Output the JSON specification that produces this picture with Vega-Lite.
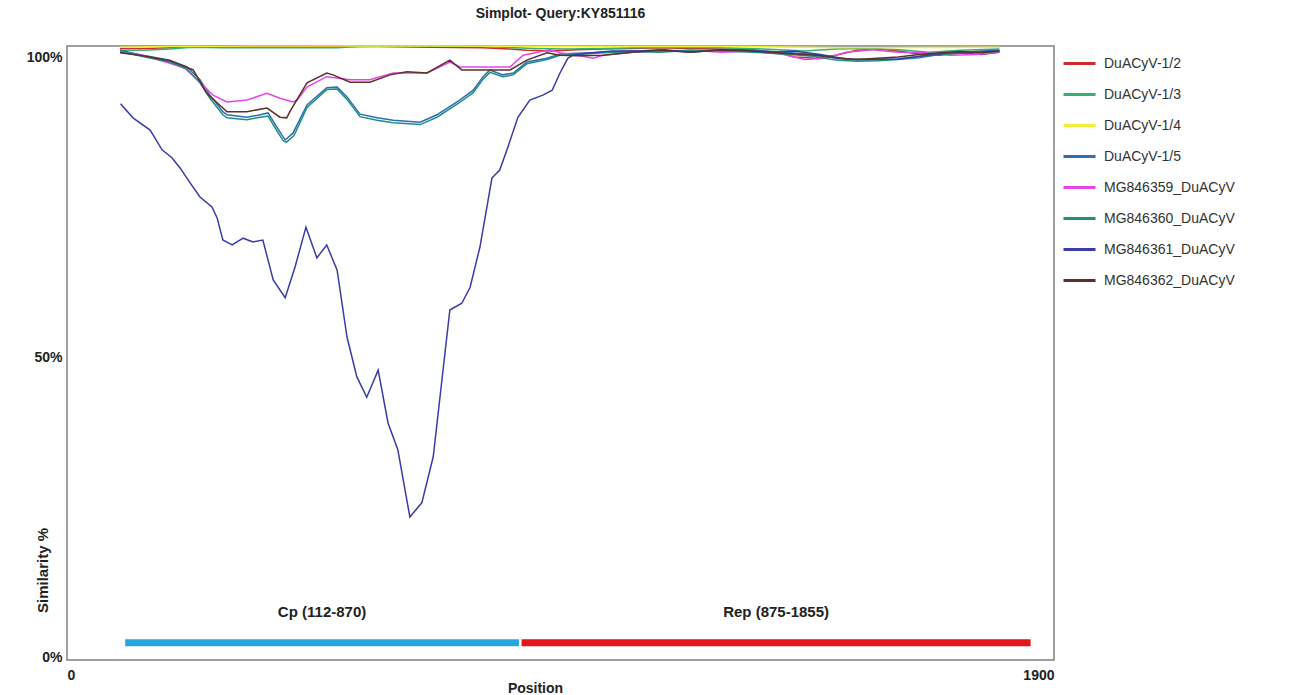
{
  "$schema": "https://vega.github.io/schema/vega-lite/v6.json",
  "width": 987,
  "height": 614,
  "autosize": "none",
  "padding": {"left": 67, "top": 46, "right": 244, "bottom": 35},
  "background": "white",
  "config": {
    "view": {"stroke": "#808080", "strokeWidth": 1.5},
    "font": "Liberation Sans"
  },
  "title": {"text": "Simplot- Query:KY851116", "fontSize": 14, "fontWeight": "bold", "font": "Liberation Sans", "color": "#222222", "offset": 22},
  "datasets": {
    "sim": [
      {"series": "DuACyV-1/2", "pos": 102, "sim": 99.6}, {"series": "DuACyV-1/2", "pos": 146, "sim": 99.6}, {"series": "DuACyV-1/2", "pos": 198, "sim": 99.7}, {"series": "DuACyV-1/2", "pos": 256, "sim": 99.9}, {"series": "DuACyV-1/2", "pos": 300, "sim": 100}, {"series": "DuACyV-1/2", "pos": 400, "sim": 100}, {"series": "DuACyV-1/2", "pos": 500, "sim": 99.9}, {"series": "DuACyV-1/2", "pos": 600, "sim": 99.9}, {"series": "DuACyV-1/2", "pos": 700, "sim": 99.8}, {"series": "DuACyV-1/2", "pos": 800, "sim": 99.7}, {"series": "DuACyV-1/2", "pos": 853, "sim": 99.5}, {"series": "DuACyV-1/2", "pos": 885, "sim": 99.3}, {"series": "DuACyV-1/2", "pos": 930, "sim": 99.2}, {"series": "DuACyV-1/2", "pos": 982, "sim": 99.4}, {"series": "DuACyV-1/2", "pos": 1032, "sim": 99.5}, {"series": "DuACyV-1/2", "pos": 1089, "sim": 99.6}, {"series": "DuACyV-1/2", "pos": 1141, "sim": 99.7}, {"series": "DuACyV-1/2", "pos": 1200, "sim": 99.6}, {"series": "DuACyV-1/2", "pos": 1260, "sim": 99.5}, {"series": "DuACyV-1/2", "pos": 1320, "sim": 99.4}, {"series": "DuACyV-1/2", "pos": 1370, "sim": 98.9}, {"series": "DuACyV-1/2", "pos": 1400, "sim": 98.2}, {"series": "DuACyV-1/2", "pos": 1440, "sim": 98.0}, {"series": "DuACyV-1/2", "pos": 1480, "sim": 98.5}, {"series": "DuACyV-1/2", "pos": 1520, "sim": 99.3}, {"series": "DuACyV-1/2", "pos": 1560, "sim": 99.5}, {"series": "DuACyV-1/2", "pos": 1600, "sim": 99.2}, {"series": "DuACyV-1/2", "pos": 1640, "sim": 98.7}, {"series": "DuACyV-1/2", "pos": 1680, "sim": 98.5}, {"series": "DuACyV-1/2", "pos": 1720, "sim": 98.9}, {"series": "DuACyV-1/2", "pos": 1760, "sim": 98.6}, {"series": "DuACyV-1/2", "pos": 1795, "sim": 99.0},

      {"series": "DuACyV-1/3", "pos": 102, "sim": 99.3}, {"series": "DuACyV-1/3", "pos": 146, "sim": 99.3}, {"series": "DuACyV-1/3", "pos": 198, "sim": 99.5}, {"series": "DuACyV-1/3", "pos": 240, "sim": 99.8}, {"series": "DuACyV-1/3", "pos": 300, "sim": 99.7}, {"series": "DuACyV-1/3", "pos": 400, "sim": 99.7}, {"series": "DuACyV-1/3", "pos": 520, "sim": 99.7}, {"series": "DuACyV-1/3", "pos": 560, "sim": 99.9}, {"series": "DuACyV-1/3", "pos": 620, "sim": 100}, {"series": "DuACyV-1/3", "pos": 700, "sim": 100}, {"series": "DuACyV-1/3", "pos": 800, "sim": 99.9}, {"series": "DuACyV-1/3", "pos": 900, "sim": 99.6}, {"series": "DuACyV-1/3", "pos": 960, "sim": 99.5}, {"series": "DuACyV-1/3", "pos": 1032, "sim": 99.6}, {"series": "DuACyV-1/3", "pos": 1100, "sim": 99.7}, {"series": "DuACyV-1/3", "pos": 1180, "sim": 99.8}, {"series": "DuACyV-1/3", "pos": 1260, "sim": 99.7}, {"series": "DuACyV-1/3", "pos": 1340, "sim": 99.5}, {"series": "DuACyV-1/3", "pos": 1420, "sim": 99.2}, {"series": "DuACyV-1/3", "pos": 1480, "sim": 99.5}, {"series": "DuACyV-1/3", "pos": 1540, "sim": 99.6}, {"series": "DuACyV-1/3", "pos": 1600, "sim": 99.4}, {"series": "DuACyV-1/3", "pos": 1660, "sim": 99.0}, {"series": "DuACyV-1/3", "pos": 1720, "sim": 99.3}, {"series": "DuACyV-1/3", "pos": 1795, "sim": 99.5},

      {"series": "DuACyV-1/4", "pos": 102, "sim": 99.8}, {"series": "DuACyV-1/4", "pos": 200, "sim": 99.9}, {"series": "DuACyV-1/4", "pos": 400, "sim": 100}, {"series": "DuACyV-1/4", "pos": 700, "sim": 100}, {"series": "DuACyV-1/4", "pos": 1000, "sim": 99.9}, {"series": "DuACyV-1/4", "pos": 1300, "sim": 99.9}, {"series": "DuACyV-1/4", "pos": 1500, "sim": 99.7}, {"series": "DuACyV-1/4", "pos": 1795, "sim": 99.8},

      {"series": "DuACyV-1/5", "pos": 102, "sim": 99.3}, {"series": "DuACyV-1/5", "pos": 146, "sim": 98.5}, {"series": "DuACyV-1/5", "pos": 198, "sim": 97.7}, {"series": "DuACyV-1/5", "pos": 231, "sim": 96.6}, {"series": "DuACyV-1/5", "pos": 256, "sim": 94.5}, {"series": "DuACyV-1/5", "pos": 275, "sim": 92.0}, {"series": "DuACyV-1/5", "pos": 300, "sim": 89.3}, {"series": "DuACyV-1/5", "pos": 308, "sim": 88.8}, {"series": "DuACyV-1/5", "pos": 346, "sim": 88.4}, {"series": "DuACyV-1/5", "pos": 372, "sim": 88.8}, {"series": "DuACyV-1/5", "pos": 387, "sim": 89.1}, {"series": "DuACyV-1/5", "pos": 404, "sim": 86.8}, {"series": "DuACyV-1/5", "pos": 416, "sim": 85.2}, {"series": "DuACyV-1/5", "pos": 420, "sim": 84.7}, {"series": "DuACyV-1/5", "pos": 435, "sim": 85.8}, {"series": "DuACyV-1/5", "pos": 462, "sim": 90.4}, {"series": "DuACyV-1/5", "pos": 500, "sim": 93.2}, {"series": "DuACyV-1/5", "pos": 520, "sim": 93.3}, {"series": "DuACyV-1/5", "pos": 539, "sim": 91.7}, {"series": "DuACyV-1/5", "pos": 564, "sim": 88.9}, {"series": "DuACyV-1/5", "pos": 597, "sim": 88.3}, {"series": "DuACyV-1/5", "pos": 628, "sim": 87.9}, {"series": "DuACyV-1/5", "pos": 680, "sim": 87.6}, {"series": "DuACyV-1/5", "pos": 712, "sim": 88.8}, {"series": "DuACyV-1/5", "pos": 756, "sim": 91.2}, {"series": "DuACyV-1/5", "pos": 782, "sim": 92.8}, {"series": "DuACyV-1/5", "pos": 801, "sim": 95.0}, {"series": "DuACyV-1/5", "pos": 814, "sim": 96.1}, {"series": "DuACyV-1/5", "pos": 839, "sim": 95.3}, {"series": "DuACyV-1/5", "pos": 859, "sim": 95.6}, {"series": "DuACyV-1/5", "pos": 885, "sim": 97.4}, {"series": "DuACyV-1/5", "pos": 924, "sim": 98.0}, {"series": "DuACyV-1/5", "pos": 949, "sim": 98.7}, {"series": "DuACyV-1/5", "pos": 982, "sim": 98.8}, {"series": "DuACyV-1/5", "pos": 1032, "sim": 99.0}, {"series": "DuACyV-1/5", "pos": 1089, "sim": 99.2}, {"series": "DuACyV-1/5", "pos": 1141, "sim": 99.3}, {"series": "DuACyV-1/5", "pos": 1200, "sim": 99.1}, {"series": "DuACyV-1/5", "pos": 1260, "sim": 99.4}, {"series": "DuACyV-1/5", "pos": 1320, "sim": 99.3}, {"series": "DuACyV-1/5", "pos": 1380, "sim": 99.0}, {"series": "DuACyV-1/5", "pos": 1440, "sim": 98.6}, {"series": "DuACyV-1/5", "pos": 1480, "sim": 98.0}, {"series": "DuACyV-1/5", "pos": 1520, "sim": 97.7}, {"series": "DuACyV-1/5", "pos": 1560, "sim": 97.8}, {"series": "DuACyV-1/5", "pos": 1600, "sim": 97.9}, {"series": "DuACyV-1/5", "pos": 1640, "sim": 98.3}, {"series": "DuACyV-1/5", "pos": 1680, "sim": 98.8}, {"series": "DuACyV-1/5", "pos": 1720, "sim": 98.9}, {"series": "DuACyV-1/5", "pos": 1760, "sim": 99.2}, {"series": "DuACyV-1/5", "pos": 1795, "sim": 99.3},

      {"series": "MG846359_DuACyV", "pos": 102, "sim": 99.0}, {"series": "MG846359_DuACyV", "pos": 146, "sim": 98.5}, {"series": "MG846359_DuACyV", "pos": 198, "sim": 97.2}, {"series": "MG846359_DuACyV", "pos": 227, "sim": 96.4}, {"series": "MG846359_DuACyV", "pos": 256, "sim": 94.1}, {"series": "MG846359_DuACyV", "pos": 281, "sim": 92.0}, {"series": "MG846359_DuACyV", "pos": 308, "sim": 90.9}, {"series": "MG846359_DuACyV", "pos": 346, "sim": 91.2}, {"series": "MG846359_DuACyV", "pos": 385, "sim": 92.3}, {"series": "MG846359_DuACyV", "pos": 410, "sim": 91.5}, {"series": "MG846359_DuACyV", "pos": 435, "sim": 90.9}, {"series": "MG846359_DuACyV", "pos": 443, "sim": 91.2}, {"series": "MG846359_DuACyV", "pos": 462, "sim": 93.3}, {"series": "MG846359_DuACyV", "pos": 500, "sim": 95.0}, {"series": "MG846359_DuACyV", "pos": 545, "sim": 94.5}, {"series": "MG846359_DuACyV", "pos": 583, "sim": 94.5}, {"series": "MG846359_DuACyV", "pos": 628, "sim": 95.6}, {"series": "MG846359_DuACyV", "pos": 693, "sim": 95.6}, {"series": "MG846359_DuACyV", "pos": 737, "sim": 97.4}, {"series": "MG846359_DuACyV", "pos": 756, "sim": 96.6}, {"series": "MG846359_DuACyV", "pos": 820, "sim": 96.6}, {"series": "MG846359_DuACyV", "pos": 853, "sim": 96.6}, {"series": "MG846359_DuACyV", "pos": 878, "sim": 98.5}, {"series": "MG846359_DuACyV", "pos": 930, "sim": 99.4}, {"series": "MG846359_DuACyV", "pos": 949, "sim": 98.9}, {"series": "MG846359_DuACyV", "pos": 982, "sim": 98.5}, {"series": "MG846359_DuACyV", "pos": 1013, "sim": 98.0}, {"series": "MG846359_DuACyV", "pos": 1032, "sim": 98.5}, {"series": "MG846359_DuACyV", "pos": 1089, "sim": 99.0}, {"series": "MG846359_DuACyV", "pos": 1141, "sim": 99.2}, {"series": "MG846359_DuACyV", "pos": 1200, "sim": 99.3}, {"series": "MG846359_DuACyV", "pos": 1260, "sim": 99.0}, {"series": "MG846359_DuACyV", "pos": 1320, "sim": 99.2}, {"series": "MG846359_DuACyV", "pos": 1380, "sim": 98.6}, {"series": "MG846359_DuACyV", "pos": 1420, "sim": 97.8}, {"series": "MG846359_DuACyV", "pos": 1460, "sim": 98.0}, {"series": "MG846359_DuACyV", "pos": 1500, "sim": 99.0}, {"series": "MG846359_DuACyV", "pos": 1550, "sim": 99.4}, {"series": "MG846359_DuACyV", "pos": 1600, "sim": 99.0}, {"series": "MG846359_DuACyV", "pos": 1650, "sim": 98.9}, {"series": "MG846359_DuACyV", "pos": 1700, "sim": 98.5}, {"series": "MG846359_DuACyV", "pos": 1750, "sim": 98.6}, {"series": "MG846359_DuACyV", "pos": 1795, "sim": 99.0},

      {"series": "MG846360_DuACyV", "pos": 102, "sim": 99.1}, {"series": "MG846360_DuACyV", "pos": 146, "sim": 98.3}, {"series": "MG846360_DuACyV", "pos": 198, "sim": 97.4}, {"series": "MG846360_DuACyV", "pos": 231, "sim": 96.2}, {"series": "MG846360_DuACyV", "pos": 256, "sim": 94.0}, {"series": "MG846360_DuACyV", "pos": 275, "sim": 91.5}, {"series": "MG846360_DuACyV", "pos": 300, "sim": 88.8}, {"series": "MG846360_DuACyV", "pos": 308, "sim": 88.3}, {"series": "MG846360_DuACyV", "pos": 346, "sim": 88.0}, {"series": "MG846360_DuACyV", "pos": 372, "sim": 88.4}, {"series": "MG846360_DuACyV", "pos": 387, "sim": 88.6}, {"series": "MG846360_DuACyV", "pos": 404, "sim": 86.2}, {"series": "MG846360_DuACyV", "pos": 416, "sim": 84.6}, {"series": "MG846360_DuACyV", "pos": 422, "sim": 84.3}, {"series": "MG846360_DuACyV", "pos": 437, "sim": 85.4}, {"series": "MG846360_DuACyV", "pos": 462, "sim": 90.0}, {"series": "MG846360_DuACyV", "pos": 500, "sim": 92.9}, {"series": "MG846360_DuACyV", "pos": 520, "sim": 93.0}, {"series": "MG846360_DuACyV", "pos": 539, "sim": 91.3}, {"series": "MG846360_DuACyV", "pos": 564, "sim": 88.5}, {"series": "MG846360_DuACyV", "pos": 597, "sim": 87.9}, {"series": "MG846360_DuACyV", "pos": 628, "sim": 87.5}, {"series": "MG846360_DuACyV", "pos": 680, "sim": 87.2}, {"series": "MG846360_DuACyV", "pos": 712, "sim": 88.4}, {"series": "MG846360_DuACyV", "pos": 756, "sim": 90.8}, {"series": "MG846360_DuACyV", "pos": 782, "sim": 92.4}, {"series": "MG846360_DuACyV", "pos": 801, "sim": 94.6}, {"series": "MG846360_DuACyV", "pos": 814, "sim": 95.7}, {"series": "MG846360_DuACyV", "pos": 839, "sim": 95.0}, {"series": "MG846360_DuACyV", "pos": 859, "sim": 95.3}, {"series": "MG846360_DuACyV", "pos": 885, "sim": 97.1}, {"series": "MG846360_DuACyV", "pos": 924, "sim": 97.8}, {"series": "MG846360_DuACyV", "pos": 949, "sim": 98.5}, {"series": "MG846360_DuACyV", "pos": 982, "sim": 98.6}, {"series": "MG846360_DuACyV", "pos": 1032, "sim": 98.9}, {"series": "MG846360_DuACyV", "pos": 1089, "sim": 99.1}, {"series": "MG846360_DuACyV", "pos": 1141, "sim": 99.0}, {"series": "MG846360_DuACyV", "pos": 1200, "sim": 99.3}, {"series": "MG846360_DuACyV", "pos": 1260, "sim": 99.2}, {"series": "MG846360_DuACyV", "pos": 1320, "sim": 99.0}, {"series": "MG846360_DuACyV", "pos": 1380, "sim": 98.7}, {"series": "MG846360_DuACyV", "pos": 1440, "sim": 98.3}, {"series": "MG846360_DuACyV", "pos": 1480, "sim": 97.7}, {"series": "MG846360_DuACyV", "pos": 1520, "sim": 97.5}, {"series": "MG846360_DuACyV", "pos": 1560, "sim": 97.6}, {"series": "MG846360_DuACyV", "pos": 1600, "sim": 97.8}, {"series": "MG846360_DuACyV", "pos": 1640, "sim": 98.1}, {"series": "MG846360_DuACyV", "pos": 1680, "sim": 98.6}, {"series": "MG846360_DuACyV", "pos": 1720, "sim": 98.8}, {"series": "MG846360_DuACyV", "pos": 1760, "sim": 99.0}, {"series": "MG846360_DuACyV", "pos": 1795, "sim": 99.1},

      {"series": "MG846361_DuACyV", "pos": 103, "sim": 90.6}, {"series": "MG846361_DuACyV", "pos": 127, "sim": 88.3}, {"series": "MG846361_DuACyV", "pos": 160, "sim": 86.3}, {"series": "MG846361_DuACyV", "pos": 183, "sim": 83.1}, {"series": "MG846361_DuACyV", "pos": 202, "sim": 81.8}, {"series": "MG846361_DuACyV", "pos": 218, "sim": 80.1}, {"series": "MG846361_DuACyV", "pos": 237, "sim": 77.7}, {"series": "MG846361_DuACyV", "pos": 256, "sim": 75.4}, {"series": "MG846361_DuACyV", "pos": 279, "sim": 73.8}, {"series": "MG846361_DuACyV", "pos": 289, "sim": 72.0}, {"series": "MG846361_DuACyV", "pos": 300, "sim": 68.4}, {"series": "MG846361_DuACyV", "pos": 318, "sim": 67.6}, {"series": "MG846361_DuACyV", "pos": 339, "sim": 68.7}, {"series": "MG846361_DuACyV", "pos": 358, "sim": 68.1}, {"series": "MG846361_DuACyV", "pos": 377, "sim": 68.4}, {"series": "MG846361_DuACyV", "pos": 397, "sim": 61.9}, {"series": "MG846361_DuACyV", "pos": 420, "sim": 59.0}, {"series": "MG846361_DuACyV", "pos": 439, "sim": 64.0}, {"series": "MG846361_DuACyV", "pos": 460, "sim": 70.5}, {"series": "MG846361_DuACyV", "pos": 481, "sim": 65.5}, {"series": "MG846361_DuACyV", "pos": 500, "sim": 67.6}, {"series": "MG846361_DuACyV", "pos": 520, "sim": 63.5}, {"series": "MG846361_DuACyV", "pos": 539, "sim": 52.6}, {"series": "MG846361_DuACyV", "pos": 558, "sim": 46.1}, {"series": "MG846361_DuACyV", "pos": 577, "sim": 42.8}, {"series": "MG846361_DuACyV", "pos": 599, "sim": 47.2}, {"series": "MG846361_DuACyV", "pos": 618, "sim": 38.6}, {"series": "MG846361_DuACyV", "pos": 637, "sim": 34.2}, {"series": "MG846361_DuACyV", "pos": 660, "sim": 23.3}, {"series": "MG846361_DuACyV", "pos": 683, "sim": 25.6}, {"series": "MG846361_DuACyV", "pos": 705, "sim": 33.1}, {"series": "MG846361_DuACyV", "pos": 737, "sim": 57.0}, {"series": "MG846361_DuACyV", "pos": 760, "sim": 58.1}, {"series": "MG846361_DuACyV", "pos": 776, "sim": 60.7}, {"series": "MG846361_DuACyV", "pos": 795, "sim": 67.3}, {"series": "MG846361_DuACyV", "pos": 818, "sim": 78.5}, {"series": "MG846361_DuACyV", "pos": 833, "sim": 79.8}, {"series": "MG846361_DuACyV", "pos": 847, "sim": 83.1}, {"series": "MG846361_DuACyV", "pos": 868, "sim": 88.4}, {"series": "MG846361_DuACyV", "pos": 891, "sim": 91.2}, {"series": "MG846361_DuACyV", "pos": 916, "sim": 92.0}, {"series": "MG846361_DuACyV", "pos": 934, "sim": 92.8}, {"series": "MG846361_DuACyV", "pos": 949, "sim": 95.6}, {"series": "MG846361_DuACyV", "pos": 964, "sim": 98.0}, {"series": "MG846361_DuACyV", "pos": 974, "sim": 98.5}, {"series": "MG846361_DuACyV", "pos": 1000, "sim": 98.8}, {"series": "MG846361_DuACyV", "pos": 1050, "sim": 99.2}, {"series": "MG846361_DuACyV", "pos": 1100, "sim": 99.2}, {"series": "MG846361_DuACyV", "pos": 1150, "sim": 99.4}, {"series": "MG846361_DuACyV", "pos": 1200, "sim": 99.0}, {"series": "MG846361_DuACyV", "pos": 1250, "sim": 99.3}, {"series": "MG846361_DuACyV", "pos": 1300, "sim": 99.3}, {"series": "MG846361_DuACyV", "pos": 1350, "sim": 99.0}, {"series": "MG846361_DuACyV", "pos": 1400, "sim": 99.2}, {"series": "MG846361_DuACyV", "pos": 1450, "sim": 98.6}, {"series": "MG846361_DuACyV", "pos": 1500, "sim": 97.9}, {"series": "MG846361_DuACyV", "pos": 1550, "sim": 97.8}, {"series": "MG846361_DuACyV", "pos": 1600, "sim": 97.9}, {"series": "MG846361_DuACyV", "pos": 1650, "sim": 98.4}, {"series": "MG846361_DuACyV", "pos": 1700, "sim": 98.9}, {"series": "MG846361_DuACyV", "pos": 1750, "sim": 99.0}, {"series": "MG846361_DuACyV", "pos": 1795, "sim": 99.2},

      {"series": "MG846362_DuACyV", "pos": 102, "sim": 98.9}, {"series": "MG846362_DuACyV", "pos": 146, "sim": 98.4}, {"series": "MG846362_DuACyV", "pos": 198, "sim": 97.6}, {"series": "MG846362_DuACyV", "pos": 243, "sim": 96.1}, {"series": "MG846362_DuACyV", "pos": 269, "sim": 92.3}, {"series": "MG846362_DuACyV", "pos": 308, "sim": 89.3}, {"series": "MG846362_DuACyV", "pos": 346, "sim": 89.3}, {"series": "MG846362_DuACyV", "pos": 385, "sim": 89.9}, {"series": "MG846362_DuACyV", "pos": 410, "sim": 88.4}, {"series": "MG846362_DuACyV", "pos": 423, "sim": 88.3}, {"series": "MG846362_DuACyV", "pos": 429, "sim": 89.3}, {"series": "MG846362_DuACyV", "pos": 462, "sim": 94.0}, {"series": "MG846362_DuACyV", "pos": 500, "sim": 95.6}, {"series": "MG846362_DuACyV", "pos": 512, "sim": 95.3}, {"series": "MG846362_DuACyV", "pos": 545, "sim": 94.1}, {"series": "MG846362_DuACyV", "pos": 583, "sim": 94.1}, {"series": "MG846362_DuACyV", "pos": 622, "sim": 95.3}, {"series": "MG846362_DuACyV", "pos": 654, "sim": 95.8}, {"series": "MG846362_DuACyV", "pos": 693, "sim": 95.6}, {"series": "MG846362_DuACyV", "pos": 737, "sim": 97.7}, {"series": "MG846362_DuACyV", "pos": 760, "sim": 96.1}, {"series": "MG846362_DuACyV", "pos": 795, "sim": 96.1}, {"series": "MG846362_DuACyV", "pos": 853, "sim": 96.1}, {"series": "MG846362_DuACyV", "pos": 885, "sim": 97.7}, {"series": "MG846362_DuACyV", "pos": 924, "sim": 98.9}, {"series": "MG846362_DuACyV", "pos": 949, "sim": 98.5}, {"series": "MG846362_DuACyV", "pos": 982, "sim": 98.4}, {"series": "MG846362_DuACyV", "pos": 1032, "sim": 98.5}, {"series": "MG846362_DuACyV", "pos": 1089, "sim": 99.0}, {"series": "MG846362_DuACyV", "pos": 1141, "sim": 99.3}, {"series": "MG846362_DuACyV", "pos": 1200, "sim": 99.0}, {"series": "MG846362_DuACyV", "pos": 1260, "sim": 99.4}, {"series": "MG846362_DuACyV", "pos": 1320, "sim": 99.2}, {"series": "MG846362_DuACyV", "pos": 1380, "sim": 98.8}, {"series": "MG846362_DuACyV", "pos": 1440, "sim": 98.5}, {"series": "MG846362_DuACyV", "pos": 1480, "sim": 98.1}, {"series": "MG846362_DuACyV", "pos": 1520, "sim": 97.8}, {"series": "MG846362_DuACyV", "pos": 1560, "sim": 98.0}, {"series": "MG846362_DuACyV", "pos": 1600, "sim": 98.2}, {"series": "MG846362_DuACyV", "pos": 1640, "sim": 98.6}, {"series": "MG846362_DuACyV", "pos": 1680, "sim": 98.9}, {"series": "MG846362_DuACyV", "pos": 1720, "sim": 99.1}, {"series": "MG846362_DuACyV", "pos": 1760, "sim": 98.9}, {"series": "MG846362_DuACyV", "pos": 1795, "sim": 99.2}
    ],
    "genes": [
      {"gene": "Cp (112-870)", "start": 112, "end": 870},
      {"gene": "Rep (875-1855)", "start": 875, "end": 1855}
    ]
  },
  "resolve": {"scale": {"color": "independent"}},
  "layer": [
    {
      "data": {"name": "sim"},
      "mark": {"type": "line", "strokeWidth": 1.5},
      "encoding": {
        "x": {
          "field": "pos", "type": "quantitative",
          "scale": {"domain": [0, 1900], "nice": false, "zero": false},
          "axis": {"values": [0, 1900], "format": "d", "title": "Position", "labelFlush": true, "ticks": false, "domain": false, "grid": false,
                   "labelFont": "Liberation Sans", "labelFontWeight": "bold", "labelFontSize": 14, "labelColor": "#222222", "labelPadding": 8,
                   "titleFont": "Liberation Sans", "titleFontWeight": "bold", "titleFontSize": 14, "titleColor": "#222222",
                   "titleX": 468, "titleY": 28, "titleBaseline": "middle"}
        },
        "y": {
          "field": "sim", "type": "quantitative",
          "scale": {"domain": [0, 100], "nice": false},
          "axis": {"values": [0, 50, 100], "labelExpr": "datum.value + '%'", "labelFlush": true, "labelOffset": 4, "ticks": false, "domain": false, "grid": false,
                   "labelFont": "Liberation Sans", "labelFontWeight": "bold", "labelFontSize": 14, "labelColor": "#222222", "labelPadding": 5,
                   "title": "Similarity %", "titleFont": "Liberation Sans", "titleFontWeight": "bold", "titleFontSize": 15, "titleColor": "#222222",
                   "titleX": -25, "titleY": 524, "titleBaseline": "middle"}
        },
        "color": {
          "field": "series", "type": "nominal",
          "scale": {
            "domain": ["DuACyV-1/2", "DuACyV-1/3", "DuACyV-1/4", "DuACyV-1/5", "MG846359_DuACyV", "MG846360_DuACyV", "MG846361_DuACyV", "MG846362_DuACyV"],
            "range": ["#d02a2a", "#35b06e", "#f2ee3a", "#2e6db6", "#e845e8", "#1f8f80", "#3b3ba8", "#5a3228"]
          },
          "legend": {"orient": "none", "legendX": 995, "legendY": 0, "title": null, "symbolType": "stroke", "symbolSize": 1024, "symbolStrokeWidth": 3,
                     "labelFont": "Liberation Sans", "labelFontSize": 14, "labelColor": "#333333", "rowPadding": 6, "labelOffset": 7, "labelLimit": 300}
        }
      }
    },
    {
      "data": {"name": "genes"},
      "mark": {"type": "rule", "strokeWidth": 7},
      "encoding": {
        "x": {"field": "start", "type": "quantitative"},
        "x2": {"field": "end"},
        "y": {"datum": 2.8},
        "color": {"field": "gene", "type": "nominal", "scale": {"domain": ["Cp (112-870)", "Rep (875-1855)"], "range": ["#2aa6df", "#e3161b"]}, "legend": null}
      }
    },
    {
      "data": {"name": "genes"},
      "transform": [{"calculate": "(datum.start + datum.end) / 2", "as": "mid"}],
      "mark": {"type": "text", "font": "Liberation Sans", "fontWeight": "bold", "fontSize": 15, "color": "#222222", "baseline": "middle"},
      "encoding": {
        "x": {"field": "mid", "type": "quantitative"},
        "y": {"datum": 7.8},
        "text": {"field": "gene"}
      }
    }
  ]
}
